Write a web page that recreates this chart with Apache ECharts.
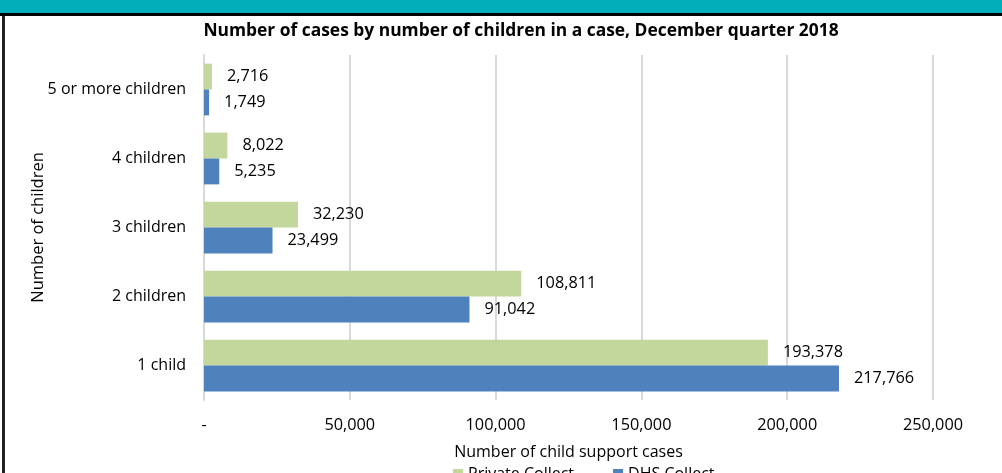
<!DOCTYPE html>
<html><head><meta charset="utf-8">
<script src="https://cdn.jsdelivr.net/npm/echarts@6/dist/echarts.min.js"></script>
<style>html,body{margin:0;padding:0;background:#fff}#c{width:1002px;height:473px}</style>
</head><body><div id="c"></div>
<script>
var categories = ['1 child', '2 children', '3 children', '4 children', '5 or more children'];
var privateCollect = [193378, 108811, 32230, 8022, 2716];
var dhsCollect = [217766, 91042, 23499, 5235, 1749];
var seriesNames = ['Private Collect', 'DHS Collect'];
var xTicks = [0, 50000, 100000, 150000, 200000, 250000];

function fmt(v){ return v === 0 ? '-' : v.toLocaleString('en-US'); }
var FONT = '"Open Sans", Lato, sans-serif';
var chart = echarts.init(document.getElementById('c'));
chart.setOption({
  animation: false,
  backgroundColor: '#fff',
  textStyle: { fontFamily: FONT },
  title: {
    text: 'Number of cases by number of children in a case, December quarter 2018',
    left: 516, top: 18, textAlign: 'center',
    textStyle: { fontFamily: FONT, fontWeight: 'bold', fontSize: 17.4, color: '#000' }
  },
  graphic: [
    { type: 'rect', shape: { x: 0, y: 0, width: 1002, height: 13 }, style: { fill: '#00AFB9' } },
    { type: 'rect', shape: { x: 0, y: 13, width: 1002, height: 3 }, style: { fill: '#000' } },
    { type: 'rect', shape: { x: 2, y: 16, width: 3, height: 457 }, style: { fill: '#222' } }
  ],
  legend: {
    data: seriesNames, top: 466, left: 453, itemWidth: 10, itemHeight: 10, itemGap: 39, padding: 0,
    icon: 'rect', textStyle: { fontFamily: FONT, fontSize: 16, color: '#000' }
  },
  grid: { left: 204, right: 69, top: 55, bottom: 73, containLabel: false },
  xAxis: {
    type: 'value', min: xTicks[0], max: xTicks[xTicks.length - 1], interval: xTicks[1] - xTicks[0],
    name: 'Number of child support cases', nameLocation: 'middle', nameGap: 44, nameMoveOverlap: false,
    nameTextStyle: { fontFamily: FONT, fontSize: 16, color: '#000' },
    axisLabel: { formatter: fmt, fontFamily: FONT, fontSize: 16.3, color: '#000', margin: 17 },
    axisLine: { show: false }, axisTick: { show: false },
    splitLine: { show: true, lineStyle: { color: '#d9d9d9', width: 2 } }
  },
  yAxis: {
    type: 'category', data: categories,
    name: 'Number of children', nameLocation: 'middle', nameGap: 166, nameRotate: 90, nameMoveOverlap: false,
    nameTextStyle: { fontFamily: FONT, fontSize: 16.5, color: '#000', verticalAlign: 'middle' },
    axisLabel: { fontFamily: FONT, fontSize: 16, color: '#000', margin: 18 },
    axisLine: { show: true, lineStyle: { color: '#d9d9d9', width: 2 } },
    axisTick: { show: false }
  },
  series: [
    {
      name: seriesNames[0], type: 'bar', data: privateCollect, barGap: '0%', barCategoryGap: '25%',
      itemStyle: { color: '#C3D69B' },
      label: { show: true, position: 'right', distance: 15, formatter: function(p){ return fmt(p.value); },
               fontFamily: FONT, fontSize: 16.3, color: '#000' }
    },
    {
      name: seriesNames[1], type: 'bar', data: dhsCollect, barGap: '0%', barCategoryGap: '25%',
      itemStyle: { color: '#4F81BD' },
      label: { show: true, position: 'right', distance: 15, formatter: function(p){ return fmt(p.value); },
               fontFamily: FONT, fontSize: 16.3, color: '#000' }
    }
  ]
});
</script></body></html>
